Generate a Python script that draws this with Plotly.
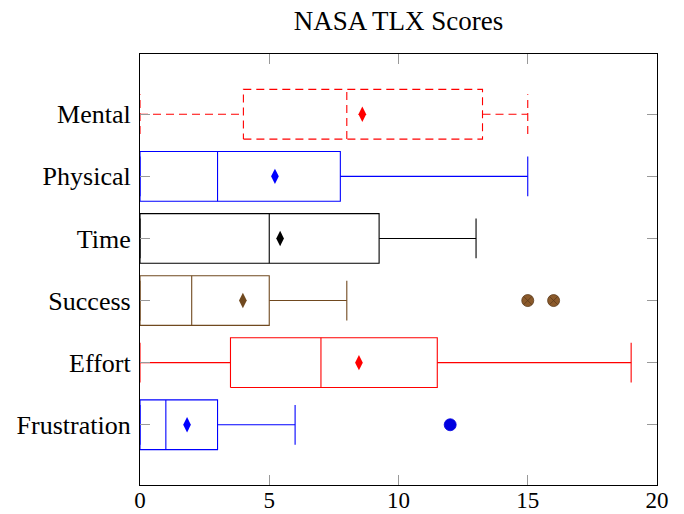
import plotly.graph_objects as go

categories = ["Frustration", "Effort", "Success", "Time", "Physical", "Mental"]
lower = [0, 0, 0, 0, 0, 0]
q1 = [0, 3.5, 0, 0, 0, 4]
median = [1, 7, 2, 5, 3, 8]
q3 = [3, 11.5, 5, 9.25, 7.75, 13.25]
upper = [6, 19, 8, 13, 15, 15]
means = [1.82, 8.47, 3.98, 5.42, 5.22, 8.6]
outliers = [[12], [], [15, 16], [], [], []]
colors = ["#0000FF", "#FF0000", "#70491F", "#000000", "#0000FF", "#FF0000"]
outlier_colors = ["#0000E0", None, "#8B5A2B", None, None, None]
dashes = ["solid", "solid", "solid", "solid", "solid", "8px,5px"]

BOX_H = 0.8
CAP_H = 0.64

fig = go.Figure()

for i, cat in enumerate(categories):
    y = i + 1
    c = colors[i]
    d = dashes[i]
    yb, yt = y - BOX_H / 2, y + BOX_H / 2
    cb, ct = y - CAP_H / 2, y + CAP_H / 2
    # box outline
    fig.add_trace(go.Scatter(
        x=[q1[i], q3[i], q3[i], q1[i], q1[i]],
        y=[yb, yb, yt, yt, yb],
        mode="lines", line=dict(color=c, width=1.1, dash=d),
        hoverinfo="skip", showlegend=False))
    # median
    fig.add_trace(go.Scatter(
        x=[median[i], median[i]], y=[yb, yt],
        mode="lines", line=dict(color=c, width=1.1, dash=d),
        hoverinfo="skip", showlegend=False))
    # whiskers + caps
    fig.add_trace(go.Scatter(
        x=[lower[i], q1[i], None, q3[i], upper[i], None,
           lower[i], lower[i], None, upper[i], upper[i]],
        y=[y, y, None, y, y, None, cb, ct, None, cb, ct],
        mode="lines", line=dict(color=c, width=1.1, dash=d),
        hoverinfo="skip", showlegend=False))
    # mean
    fig.add_trace(go.Scatter(
        x=[means[i]], y=[y], mode="markers",
        marker=dict(symbol="diamond-tall", size=11, color=c, line=dict(width=0)),
        showlegend=False))
    # outliers
    if outliers[i]:
        oc = outlier_colors[i]
        sym = "circle-x" if cat == "Success" else "circle"
        fig.add_trace(go.Scatter(
            x=outliers[i], y=[y] * len(outliers[i]), mode="markers",
            marker=dict(symbol=sym, size=12, color=oc,
                        line=dict(width=0.8, color="#5A3A1A" if cat == "Success" else oc)),
            showlegend=False))

font_family = "Liberation Serif, Times New Roman, serif"

fig.update_layout(
    width=684, height=514,
    margin=dict(l=140, r=27, t=54, b=29),
    plot_bgcolor="white", paper_bgcolor="white",
    title=dict(text="NASA TLX Scores", x=0.5, xref="paper", y=1 - 21 / 514, yref="container",
               xanchor="center", yanchor="middle",
               font=dict(family=font_family, size=27, color="black")),
    font=dict(family=font_family, size=26, color="black"),
    xaxis=dict(range=[0, 20], tickvals=[0, 5, 10, 15, 20], ticks="inside", ticklen=10,
               tickcolor="#999999", tickwidth=1, showgrid=False, zeroline=False,
               showline=True, linecolor="black", linewidth=1.2, mirror="allticks",
               automargin=False, ticklabelstandoff=-6,
               tickfont=dict(family=font_family, size=23, color="black")),
    yaxis=dict(range=[0.03, 6.97], tickvals=list(range(1, len(categories) + 1)),
               ticktext=categories, ticks="inside", ticklen=10, tickcolor="#999999",
               tickwidth=1, showgrid=False, zeroline=False, showline=True,
               linecolor="black", linewidth=1.2, mirror="allticks",
               automargin=False, ticklabelstandoff=3,
               tickfont=dict(family=font_family, size=26, color="black")),
)

fig.write_html("out.html", config={"displayModeBar": False},
               post_script="document.body.style.margin='0';")
